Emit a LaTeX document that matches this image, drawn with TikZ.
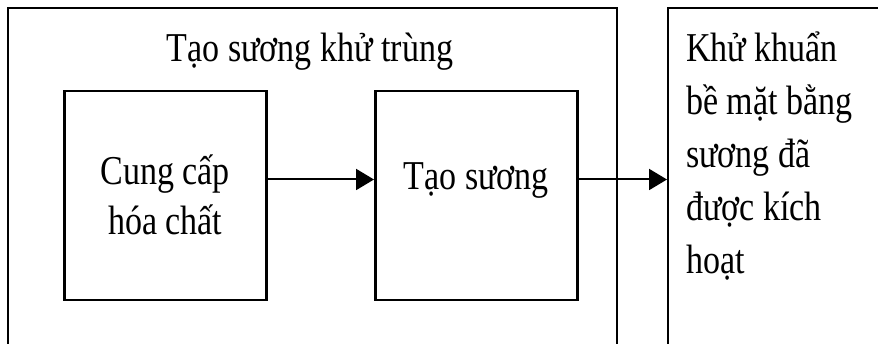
\documentclass[tikz,border=0pt]{standalone}
\usepackage{fontspec}
\setmainfont[FakeStretch=0.83]{Liberation Serif}
\usetikzlibrary{arrows.meta}
\begin{document}
\begin{tikzpicture}[x=1pt,y=1pt,
  lbl/.style={font=\fontsize{41}{53}\selectfont, inner sep=0pt},
  frame/.style={draw, line width=1.8pt, inner sep=0pt, anchor=north west},
  inbox/.style={draw, line width=2.5pt, inner sep=0pt, minimum width=202pt, minimum height=209pt, anchor=north west},
  conn/.style={line width=2pt, -{Triangle[length=18pt,width=21pt]}}]
\useasboundingbox (0,0) rectangle (878,344);
\node[frame, minimum width=609pt, minimum height=360pt] (outer) at (7,337) {};
\node[frame, minimum width=240pt, minimum height=360pt] (right) at (667,337) {};
\node[lbl, anchor=base] (title) at (310,282) {Tạo sương khử trùng};
\node[inbox] (b1) at (63,254) {};
\node[inbox] (b2) at (374,254) {};
\node[lbl, align=center, anchor=base] (t1) at (b1.center |- 0,109) {Cung cấp\\[-3pt]hóa chất};
\node[lbl, anchor=base] (t2) at (b2.center |- 0,154) {Tạo sương};
\node[lbl, align=left, anchor=base west] (t3) at (686,70) {Khử khuẩn\\bề mặt bằng\\sương đã\\được kích\\hoạt};
\draw[conn] (b1.east |- 0,164.5) coordinate (a1) -- (b2.west |- a1);
\draw[conn] (b2.east |- 0,164.5) coordinate (a2) -- (right.west |- a2);
\end{tikzpicture}
\end{document}
